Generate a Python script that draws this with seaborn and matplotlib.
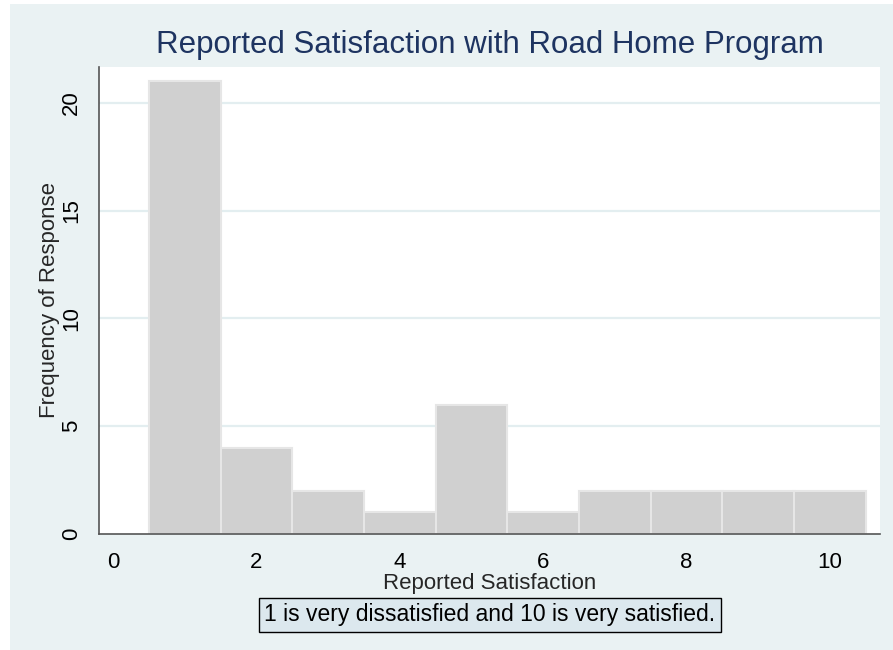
import matplotlib
matplotlib.use('Agg')
import matplotlib.pyplot as plt
import seaborn as sns
import pandas as pd

# satisfaction scores and how many people gave each one
scores = [1, 2, 3, 4, 5, 6, 7, 8, 9, 10]
counts = [21, 4, 2, 1, 6, 1, 2, 2, 2, 2]
x_ticks = [0, 2, 4, 6, 8, 10]
y_ticks = [0, 5, 10, 15, 20]

df = pd.DataFrame({'score': scores, 'n': counts})

sns.set_style('white')
plt.rcParams['font.family'] = ['Liberation Sans', 'DejaVu Sans']

bg = '#EAF2F3'
fig = plt.figure(figsize=(8.93, 6.5), dpi=100, facecolor='white')
# stata-like outer region (image is slightly cropped at left/top)
fig.patches.append(plt.Rectangle((10 / 893, 0), 1, 1 - 4 / 650, transform=fig.transFigure,
                                 facecolor=bg, edgecolor='none', zorder=-5))

ax = fig.add_axes([99 / 893, (650 - 534) / 650, (880 - 99) / 893, (534 - 67) / 650])
ax.set_facecolor('white')

sns.histplot(data=df, x='score', weights='n', discrete=True, ax=ax,
             color='#D0D0D0', alpha=1, edgecolor='#E6E6E6', linewidth=1.5, zorder=3)

ax.set_xlim(-0.195, 10.70)
ax.set_ylim(0, 21.67)
ax.set_xticks(x_ticks)
ax.set_yticks(y_ticks)
for y in y_ticks[1:]:
    ax.axhline(y, color='#E3EEF0', lw=1.6, zorder=1)

for s in ['top', 'right']:
    ax.spines[s].set_visible(False)
for s in ['left', 'bottom']:
    ax.spines[s].set_color('#555555')
    ax.spines[s].set_linewidth(1.2)
    ax.spines[s].set_zorder(4)

ax.tick_params(axis='both', direction='out', length=7, width=1, color='#333333',
               labelsize=16, labelcolor='black')
ax.tick_params(axis='x', pad=6)
ax.tick_params(axis='y', pad=5)
plt.setp(ax.get_yticklabels(), rotation=90, va='center')

ax.set_xlabel('Reported Satisfaction', fontsize=16, labelpad=0)
ax.set_ylabel('Frequency of Response', fontsize=16, labelpad=1)

fig.text(490 / 893, 1 - 45 / 650, 'Reported Satisfaction with Road Home Program',
         ha='center', va='center', fontsize=22.5, color='#1E3461')
fig.text(490 / 893, 1 - 615 / 650, '1 is very dissatisfied and 10 is very satisfied.',
         ha='center', va='center', fontsize=16.5, color='black',
         bbox=dict(boxstyle='square,pad=0.22', facecolor='#DCE8EE', edgecolor='black', lw=1))

fig.savefig('out.png', dpi=100, facecolor=fig.get_facecolor())
